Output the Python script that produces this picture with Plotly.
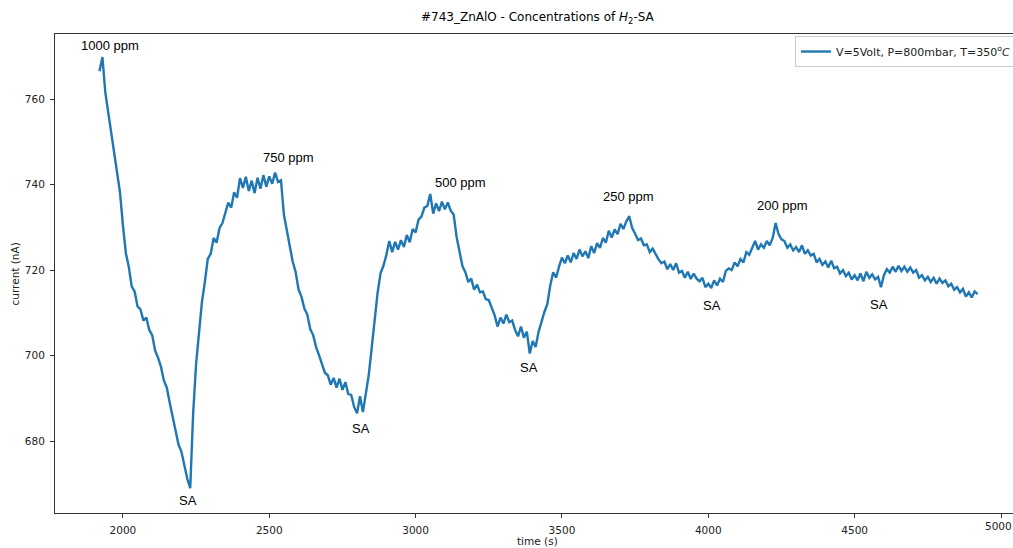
import plotly.graph_objects as go

# Sensor current sampled every 10 s, starting at t = 1920 s
t_start = 1920
t_step = 10
current = [
    766.5, 769.8, 761.5, 757.0, 752.8, 747.5, 743.6, 738.2, 730.5, 724.0,
    720.8, 716.2, 715.0, 711.5, 710.8, 708.2, 708.9, 706.0, 704.8, 701.2,
    699.5, 697.4, 694.2, 692.5, 689.0, 685.8, 682.9, 679.2, 677.5, 674.0,
    671.2, 669.0, 686.5, 698.0, 705.8, 712.5, 717.2, 722.6, 723.8, 727.5,
    726.4, 729.8, 731.0, 733.5, 735.8, 734.6, 738.2, 736.9, 741.5, 739.2,
    741.8, 738.5, 740.9, 738.0, 741.6, 739.0, 742.2, 739.5, 741.9, 740.2,
    742.8, 740.6, 741.0, 733.0, 729.5, 725.8, 722.0, 719.6, 715.5, 713.8,
    711.0, 709.6, 706.2, 704.8, 702.0, 700.1, 698.2, 696.0, 695.4, 693.2,
    694.8, 692.5, 694.6, 692.0, 693.8, 691.0, 690.8, 688.0, 686.5, 690.5,
    686.8, 691.5, 695.5, 701.8, 708.5, 714.6, 719.2, 721.0, 723.5, 726.8,
    724.2, 726.6, 724.8, 727.0, 725.4, 728.2, 726.5, 729.6, 728.8, 731.8,
    732.5, 734.6, 735.0, 737.8, 733.2, 735.6, 733.8, 736.0, 734.2, 735.8,
    733.9, 733.0, 727.8, 724.6, 720.9, 719.5, 717.2, 718.0, 715.4, 716.6,
    714.8, 715.0, 713.2, 713.0, 711.2, 709.4, 706.8, 708.9, 707.5, 709.6,
    707.8, 708.2, 706.0, 704.5, 706.8, 704.2, 705.6, 700.5, 703.4, 702.0,
    705.5, 707.9, 710.2, 712.0, 716.4, 719.5, 718.2, 720.8, 722.9, 721.6,
    723.4, 721.8, 724.0, 722.6, 724.8, 723.2, 724.4, 722.8, 725.6, 724.0,
    726.3, 725.2, 727.5, 726.4, 729.2, 727.6, 729.5, 728.4, 730.8, 729.6,
    731.4, 732.6, 729.8, 728.5, 727.0, 727.4, 725.8, 726.0, 724.2, 725.0,
    723.6, 722.5, 721.6, 722.0, 720.2, 721.4, 720.0, 721.6, 719.4, 719.8,
    718.2, 719.6, 717.9, 719.2, 718.0, 717.4, 718.2, 716.0, 716.8, 715.8,
    717.6, 716.4, 718.0, 717.2, 719.8, 720.4, 720.0, 721.8, 720.9, 722.6,
    721.8, 724.2, 723.6, 725.4, 726.8, 724.8, 726.0, 725.2, 726.8, 725.8,
    727.5, 731.0, 728.4, 727.2, 726.8, 725.2, 726.0, 724.6, 725.4, 724.2,
    725.8, 723.8, 724.6, 723.4, 723.8, 721.8, 722.6, 721.2, 722.0, 720.6,
    722.2, 720.4, 720.8, 719.2, 720.0, 718.6, 719.4, 717.8, 718.8, 717.6,
    719.2, 717.4, 719.6, 718.2, 719.0, 717.8, 718.4, 716.0, 718.8, 720.2,
    719.4, 720.8, 719.6, 721.0, 719.8, 720.8, 719.6, 720.6, 719.4, 720.0,
    718.2, 718.8, 717.6, 718.4, 717.2, 718.2, 716.8, 718.0, 717.0, 717.6,
    716.2, 716.8, 715.4, 716.0, 714.8, 715.6, 713.8, 714.8, 713.6, 715.0,
    714.4,
]
time_s = [t_start + t_step * i for i in range(len(current))]

# Concentration labels at each exposure peak
peak_labels = ["1000 ppm", "750 ppm", "500 ppm", "250 ppm", "200 ppm"]
peak_x = [1956, 2567, 3155, 3729, 4255]
peak_y = [772.4, 746.4, 740.4, 737.3, 735.0]

# Synthetic-air labels at each recovery minimum
sa_x = [2222, 2813, 3387, 4012, 4583]
sa_y = [666.2, 683.0, 697.3, 711.8, 712.0]

x_ticks = [2000, 2500, 3000, 3500, 4000, 4500, 5000]
y_ticks = [680, 700, 720, 740, 760]

LINE_BLUE = "#1f77b4"
AXIS_GREY = "#333333"
TICK_FONT = dict(family="DejaVu Sans", size=10.5, color="#222222")
LABEL_FONT = dict(family="Liberation Sans", size=13, color="black")

fig = go.Figure()
fig.add_trace(go.Scatter(
    x=time_s, y=current, mode="lines",
    line=dict(color=LINE_BLUE, width=2.4),
    name="V=5Volt, P=800mbar, T=350<sup>o</sup><i>C</i>",
    showlegend=True,
))

annotations = []
for txt, x, y in zip(peak_labels, peak_x, peak_y):
    annotations.append(dict(x=x, y=y, xref="x", yref="y", text=txt,
                            showarrow=False, font=LABEL_FONT))
for x, y in zip(sa_x, sa_y):
    annotations.append(dict(x=x, y=y, xref="x", yref="y", text="SA",
                            showarrow=False, font=LABEL_FONT))

# Last x tick label sits on the right edge of the figure
annotations.append(dict(
    x=x_ticks[-1], y=-0.0271, xref="x", yref="paper", text=str(x_ticks[-1]),
    showarrow=False, xanchor="center", yanchor="middle", font=TICK_FONT,
    xshift=-3,
))

# Title and axis titles
annotations.append(dict(
    x=0.504, y=1.0334, xref="paper", yref="paper",
    text="#743_ZnAlO - Concentrations of <i>H</i><sub>2</sub>-SA",
    showarrow=False, xanchor="center", yanchor="middle",
    font=dict(family="DejaVu Sans", size=12, color="black"),
))
annotations.append(dict(
    x=0.504, y=-0.0585, xref="paper", yref="paper", text="time (s)",
    showarrow=False, xanchor="center", yanchor="middle", font=TICK_FONT,
))
annotations.append(dict(
    x=-0.0418, y=0.5, xref="paper", yref="paper", text="current (nA)",
    showarrow=False, xanchor="center", yanchor="middle", textangle=-90,
    font=TICK_FONT,
))

fig.update_layout(
    width=1013, height=548,
    margin=dict(l=55, r=0, t=34, b=35, autoexpand=False),
    paper_bgcolor="white", plot_bgcolor="white",
    annotations=annotations,
    legend=dict(
        x=0.7724, y=0.9958, xanchor="left", yanchor="top",
        bgcolor="rgba(255,255,255,0.8)", bordercolor="#cccccc", borderwidth=1,
        font=dict(family="DejaVu Sans", size=11, color="#222222"),
    ),
    xaxis=dict(
        range=[1768, 5041], tickvals=x_ticks, ticks="outside", ticklen=4,
        tickwidth=1, tickcolor=AXIS_GREY, showline=True, linecolor=AXIS_GREY,
        linewidth=1, mirror=True, showgrid=False, zeroline=False,
        tickfont=TICK_FONT, ticklabelstandoff=3,
    ),
    yaxis=dict(
        range=[663.2, 775.2], tickvals=y_ticks, ticks="outside", ticklen=4,
        tickwidth=1, tickcolor=AXIS_GREY, showline=True, linecolor=AXIS_GREY,
        linewidth=1, mirror=False, showgrid=False, zeroline=False,
        tickfont=TICK_FONT, ticklabelstandoff=3,
    ),
)

fig.write_html("out.html")
